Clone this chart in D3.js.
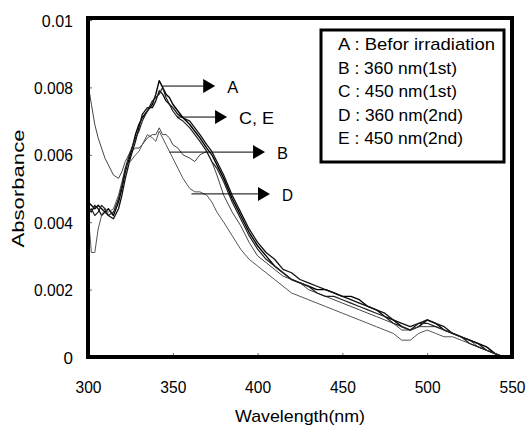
<!DOCTYPE html>
<html><head><meta charset="utf-8">
<script src="https://cdn.jsdelivr.net/npm/d3@7/dist/d3.min.js"></script>
<style>body{margin:0;background:#fff;} svg{display:block;}</style>
</head><body><svg id="c" width="528" height="426"></svg>
<script>
const wavelength = [300,302,304,306,308,310,312,315,318,320,322,325,328,330,332,335,338,340,342,344,346,348,350,353,356,360,363,366,370,373,376,380,385,390,395,400,405,410,415,420,425,430,435,440,445,450,455,460,465,470,475,480,485,490,495,500,505,510,515,520,525,530,535,540,545];
const seriesA = [0.0046,0.0045,0.0044,0.0045,0.0044,0.0043,0.0044,0.0042,0.0046,0.0050,0.0055,0.0060,0.0066,0.0069,0.0071,0.0073,0.0075,0.0078,0.0082,0.0080,0.0078,0.0077,0.0075,0.0073,0.0071,0.0069,0.0067,0.0065,0.0062,0.0060,0.0057,0.0053,0.0047,0.0042,0.0037,0.0033,0.0030,0.0027,0.0025,0.0023,0.0022,0.0021,0.0020,0.0020,0.0019,0.0018,0.0018,0.0017,0.0015,0.0014,0.0012,0.0011,0.0009,0.0008,0.0009,0.0011,0.0010,0.0008,0.0007,0.0006,0.0005,0.0004,0.0003,0.0001,0.0000];
const seriesB = [0.0081,0.0075,0.0069,0.0065,0.0062,0.0059,0.0057,0.0054,0.0053,0.0055,0.0058,0.0061,0.0062,0.0062,0.0063,0.0065,0.0066,0.0066,0.0068,0.0066,0.0066,0.0065,0.0063,0.0062,0.0060,0.0059,0.0058,0.0060,0.0061,0.0058,0.0054,0.0048,0.0043,0.0039,0.0034,0.0030,0.0028,0.0026,0.0024,0.0023,0.0022,0.0020,0.0019,0.0018,0.0017,0.0016,0.0015,0.0014,0.0013,0.0012,0.0011,0.0010,0.0008,0.0008,0.0009,0.0009,0.0009,0.0008,0.0007,0.0006,0.0005,0.0003,0.0002,0.0001,0.0000];
const seriesC = [0.0044,0.0043,0.0045,0.0044,0.0042,0.0043,0.0042,0.0041,0.0044,0.0048,0.0053,0.0059,0.0064,0.0068,0.0072,0.0074,0.0074,0.0076,0.0079,0.0078,0.0076,0.0075,0.0074,0.0072,0.0071,0.0070,0.0068,0.0066,0.0063,0.0061,0.0058,0.0054,0.0048,0.0043,0.0038,0.0034,0.0031,0.0029,0.0026,0.0025,0.0023,0.0022,0.0021,0.0020,0.0019,0.0018,0.0017,0.0016,0.0015,0.0014,0.0013,0.0011,0.0010,0.0009,0.0010,0.0011,0.0010,0.0009,0.0007,0.0006,0.0005,0.0004,0.0002,0.0001,0.0000];
const seriesD = [0.0043,0.0031,0.0031,0.0038,0.0042,0.0044,0.0043,0.0044,0.0048,0.0052,0.0056,0.0058,0.0060,0.0061,0.0063,0.0066,0.0065,0.0064,0.0067,0.0065,0.0063,0.0061,0.0059,0.0056,0.0053,0.0050,0.0049,0.0049,0.0048,0.0046,0.0043,0.0040,0.0036,0.0032,0.0029,0.0027,0.0025,0.0023,0.0021,0.0019,0.0018,0.0017,0.0016,0.0015,0.0014,0.0013,0.0012,0.0011,0.0010,0.0009,0.0008,0.0007,0.0005,0.0005,0.0007,0.0008,0.0007,0.0006,0.0006,0.0005,0.0004,0.0003,0.0002,0.0001,0.0000];
const seriesE = [0.0043,0.0044,0.0042,0.0043,0.0045,0.0044,0.0042,0.0043,0.0047,0.0051,0.0056,0.0061,0.0065,0.0067,0.0070,0.0073,0.0076,0.0077,0.0078,0.0080,0.0077,0.0075,0.0073,0.0071,0.0070,0.0068,0.0066,0.0064,0.0061,0.0058,0.0056,0.0052,0.0046,0.0041,0.0036,0.0032,0.0029,0.0027,0.0025,0.0023,0.0022,0.0021,0.0019,0.0018,0.0018,0.0017,0.0016,0.0015,0.0014,0.0013,0.0012,0.0010,0.0009,0.0008,0.0010,0.0010,0.0009,0.0008,0.0007,0.0006,0.0004,0.0003,0.0002,0.0001,0.0000];
const seriesNames = ["A","B","C","D","E"];
const legendLabels = ["A : Befor irradiation","B : 360 nm(1st)","C : 450 nm(1st)","D : 360 nm(2nd)","E : 450 nm(2nd)"];
const xTicks = [300,350,400,450,500,550];
const yTicks = [0,0.002,0.004,0.006,0.008,0.01];
const yTickLabels = ["0","0.002","0.004","0.006","0.008","0.01"];
const arrowLabels = ["A","C, E","B","D"];
const arrowY = [0.00804,0.00712,0.00608,0.00484];
const arrowStart = [344,352.5,348,361];
const arrowTip = [375,382,404.4,407.3];

const svg = d3.select("#c");
const L=88,R=512,T=20,B=357;
const x = d3.scaleLinear().domain([300,550]).range([L,R]);
const y = d3.scaleLinear().domain([0,0.01]).range([B,T]);
const font = "'Liberation Sans', Arial, sans-serif";

const all = [seriesA,seriesB,seriesC,seriesD,seriesE];
const colors = ["#000","#444","#111","#555","#222"];
const widths = [1.4,1.0,1.3,1.0,1.2];
const line = d3.line().x((d,i)=>x(wavelength[i])).y(d=>y(d)).curve(d3.curveLinear);
all.forEach((s,k)=>{
  svg.append("path").datum(s).attr("d",line).attr("fill","none")
    .attr("stroke",colors[k]).attr("stroke-width",widths[k]).attr("stroke-linejoin","round");
});

// axes ticks (inside)
const xAxis = d3.axisBottom(x).tickValues(xTicks).tickSize(0).tickPadding(0).tickFormat(d=>d);
const gx = svg.append("g").attr("transform",`translate(0,${B})`).call(xAxis);
gx.select(".domain").remove();
gx.selectAll(".tick text").remove();
gx.selectAll(".tick").append("line").attr("y1",0).attr("y2",-4).attr("stroke","#666").attr("stroke-width",1);
gx.selectAll(".tick").append("text").attr("y",36).attr("text-anchor","middle")
  .attr("font-family",font).attr("font-size",17).attr("fill","#000")
  .attr("textLength",26).attr("lengthAdjust","spacingAndGlyphs").text(d=>d);

const yAxis = d3.axisLeft(y).tickValues(yTicks).tickSize(0);
const gy = svg.append("g").attr("transform",`translate(${L},0)`).call(yAxis);
gy.select(".domain").remove();
gy.selectAll(".tick text").remove();
gy.selectAll(".tick").append("line").attr("x1",0).attr("x2",4).attr("stroke","#666").attr("stroke-width",1);
gy.selectAll(".tick").append("text").attr("x",-15).attr("dy","0.36em").attr("text-anchor","end")
  .attr("font-family",font).attr("font-size",17).attr("fill","#000")
  .each(function(d,i){
    const t = yTickLabels[i];
    const el = d3.select(this).text(t);
    if(t.length>1) el.attr("textLength",t.length*7.8).attr("lengthAdjust","spacingAndGlyphs");
  });

// frame
svg.append("rect").attr("x",L).attr("y",T-2).attr("width",R-L).attr("height",B-T+2)
  .attr("fill","none").attr("stroke","#000").attr("stroke-width",4);

// axis titles
svg.append("text").attr("x",300).attr("y",422).attr("text-anchor","middle")
  .attr("font-family",font).attr("font-size",17).attr("textLength",130).attr("lengthAdjust","spacingAndGlyphs")
  .text("Wavelength(nm)");
svg.append("text").attr("transform",`translate(24,${(T+B)/2}) rotate(-90)`).attr("text-anchor","middle")
  .attr("font-family",font).attr("font-size",17).attr("textLength",118).attr("lengthAdjust","spacingAndGlyphs")
  .text("Absorbance");

// arrows
arrowLabels.forEach((lab,i)=>{
  const yy = y(arrowY[i]), x0 = x(arrowStart[i]), xt = x(arrowTip[i]);
  svg.append("line").attr("x1",x0).attr("x2",xt-12).attr("y1",yy).attr("y2",yy).attr("stroke","#000").attr("stroke-width",1);
  svg.append("path").attr("d",`M${xt-12},${yy-7}L${xt},${yy}L${xt-12},${yy+7}Z`).attr("fill","#000");
  svg.append("text").attr("x",xt+12).attr("y",yy+7).attr("font-family",font).attr("font-size",17)
    .attr("textLength",lab.length>1?35:11).attr("lengthAdjust","spacingAndGlyphs").text(lab);
});

// legend
svg.append("rect").attr("x",321).attr("y",30).attr("width",183).attr("height",132)
  .attr("fill","#fff").attr("stroke","#000").attr("stroke-width",3);
const legW = [157,119,119,125,125];
legendLabels.forEach((t,i)=>{
  svg.append("text").attr("x",338).attr("y",50+i*23.5).attr("font-family",font).attr("font-size",17)
    .attr("textLength",legW[i]).attr("lengthAdjust","spacingAndGlyphs").text(t);
});
</script></body></html>
